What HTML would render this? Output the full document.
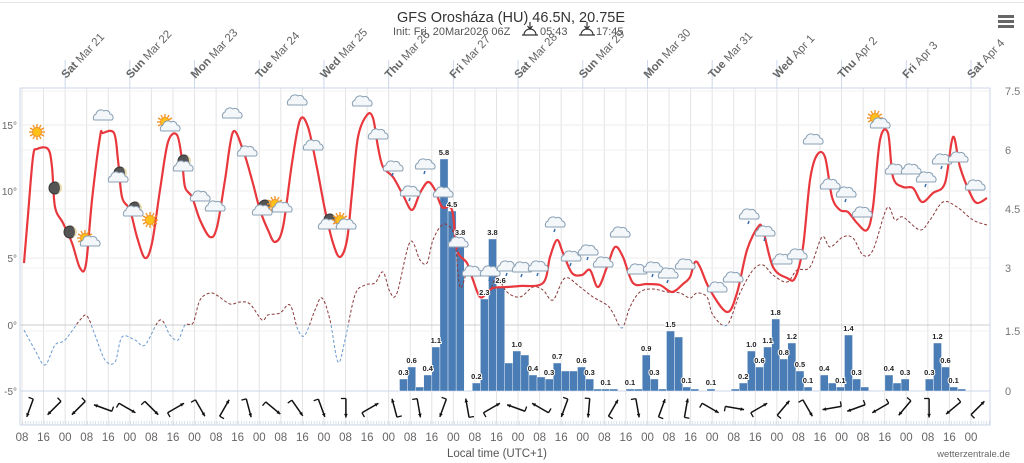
<!DOCTYPE html>
<html><head><meta charset="utf-8">
<style>
body{margin:0;background:#fff;width:1024px;height:463px;overflow:hidden;font-family:"Liberation Sans",sans-serif;}
svg{display:block}
</style></head><body>
<svg id="s" width="1024" height="463" viewBox="0 0 1024 463" xmlns="http://www.w3.org/2000/svg" font-family="Liberation Sans, sans-serif">
<rect x="0" y="0" width="1024" height="463" fill="#fff"/>
<line x1="0" y1="2.5" x2="1024" y2="2.5" stroke="#e6e6e6"/>
<text x="511" y="22" text-anchor="middle" font-size="14.5" fill="#333">GFS Orosháza (HU) 46.5N, 20.75E</text>
<text x="393" y="35" font-size="11" fill="#555">Init: Fri, 20Mar2026 06Z</text>
<text x="540" y="35" font-size="11" fill="#555">05:43</text>
<text x="596" y="35" font-size="11" fill="#555">17:45</text>
<g stroke="#333" stroke-width="1.2" fill="none">
<path d="M524 35 a6 6 0 0 1 12 0 M522 35h16 M530 22v7 M527.5 26l2.5 3 2.5-3"/>
<path d="M581 35 a6 6 0 0 1 12 0 M579 35h16 M587 22v7 M584.5 26l2.5 3 2.5-3"/>
</g>
<g fill="#666"><rect x="998" y="15" width="16" height="3"/><rect x="998" y="20" width="16" height="3"/><rect x="998" y="25" width="16" height="3"/></g>
<g id="grid"></g>
<g id="bars"></g>
<g id="lines"></g>
<g id="icons"></g>
<g id="wind"></g>
<g id="labels"></g>
<text x="497" y="457" text-anchor="middle" font-size="11.5" fill="#555">Local time (UTC+1)</text>
<text x="1010" y="457" text-anchor="end" font-size="9.5" fill="#666">wetterzentrale.de</text>
</svg>
<script>
const NS="http://www.w3.org/2000/svg";
function el(p,t,a,txt){const e=document.createElementNS(NS,t);for(const k in a)e.setAttribute(k,a[k]);if(txt!==undefined)e.textContent=txt;document.getElementById(p).appendChild(e);return e;}
const X0=22,PH=2.696,L=20,R=990,T=88,B=391;
for(let i=0;i<=45;i++){const x=X0+i*8*PH;if(x>R)break;el('grid','line',{x1:x,y1:T,x2:x,y2:425,stroke:'#e3e3e3','stroke-width':1});}
const days=["Sat|Mar 21","Sun|Mar 22","Mon|Mar 23","Tue|Mar 24","Wed|Mar 25","Thu|Mar 26","Fri|Mar 27","Sat|Mar 28","Sun|Mar 29","Mon|Mar 30","Tue|Mar 31","Wed|Apr 1","Thu|Apr 2","Fri|Apr 3","Sat|Apr 4"];
days.forEach((d,i)=>{const x=X0+(16+24*i)*PH;el('grid','line',{x1:x,y1:60,x2:x,y2:T,stroke:'#ccd6eb'});
const g=el('labels','text',{transform:`translate(${x+1},${79}) rotate(-47)`,'font-size':11.5,fill:'#666'});
const [a,b]=d.split('|');const t1=document.createElementNS(NS,'tspan');t1.setAttribute('font-weight','bold');t1.textContent=a+' ';g.appendChild(t1);const t2=document.createElementNS(NS,'tspan');t2.textContent=b;g.appendChild(t2);});
[[125,'15°'],[191,'10°'],[258,'5°'],[325,'0°'],[391,'-5°']].forEach(([y,t])=>{el('grid','line',{x1:L,y1:y,x2:R,y2:y,stroke:y==325?'#ccc':'#eee'});el('labels','text',{x:17,y:y+4,'text-anchor':'end','font-size':10,fill:'#666'},t);});
[[91,'7.5'],[150,'6'],[209,'4.5'],[268,'3'],[331,'1.5'],[391,'0']].forEach(([y,t])=>{el('grid','line',{x1:L,y1:y,x2:R,y2:y,stroke:'#f0f0f0'});el('labels','text',{x:1005,y:y+4,'font-size':11,fill:'#777'},t);});
el('grid','rect',{x:L,y:T,width:R-L,height:425-T,fill:'none',stroke:'#ccd6eb'});
el('grid','line',{x1:L,y1:391,x2:R,y2:391,stroke:'#ccd6eb'});
for(let x=L;x<R;x+=2.7)el('grid','line',{x1:x,y1:421,x2:x,y2:425,stroke:'#d0d8e8','stroke-width':0.8});
const hl=["08","16","00"];for(let i=0;i<=45;i++){const x=X0+i*8*PH;if(x>R)break;el('labels','text',{x:x,y:441,'text-anchor':'middle','font-size':11.5,fill:'#666'},hl[i%3]);}
const bv=[0.3,0.6,0.1,0.4,1.1,5.8,4.5,3.8,0,0.2,2.3,3.8,2.6,0.7,1.0,0.9,0.4,0.35,0.3,0.7,0.5,0.5,0.6,0.3,0.05,0.05,0.05,0,0.05,0.05,0.9,0.3,0.05,1.5,1.35,0.1,0.05,0,0.05,0,0,0.05,0.2,1.0,0.6,1.1,1.8,0.8,1.2,0.5,0.1,0,0.4,0.2,0.1,1.4,0.3,0.1,0,0,0.4,0.2,0.3,0,0,0.3,1.2,0.6,0.1,0.05];
const lab={0:'0.3',1:'0.6',3:'0.4',4:'1.1',5:'5.8',6:'4.5',7:'3.8',9:'0.2',10:'2.3',11:'3.8',12:'2.6',14:'1.0',16:'0.4',18:'0.3',19:'0.7',22:'0.6',23:'0.3',25:'0.1',28:'0.1',30:'0.9',31:'0.3',33:'1.5',35:'0.1',38:'0.1',42:'0.2',43:'1.0',44:'0.6',45:'1.1',46:'1.8',47:'0.8',48:'1.2',49:'0.5',50:'0.1',52:'0.4',54:'0.1',55:'1.4',56:'0.3',60:'0.4',62:'0.3',65:'0.3',66:'1.2',67:'0.6',68:'0.1'};
bv.forEach((v,i)=>{if(v<=0)return;const x=399.5+i*8.09,h=Math.max(v*40,1.5);el('bars','rect',{x:x,y:B-h,width:8.09,height:h,fill:'#4a7db5',stroke:'#fff','stroke-width':0.4});});
function smooth(p){let d=`M${p[0][0]},${p[0][1]}`;for(let i=0;i<p.length-1;i++){const p0=p[i-1]||p[i],p1=p[i],p2=p[i+1],p3=p[i+2]||p2;d+=` C${p1[0]+(p2[0]-p0[0])/6},${p1[1]+(p2[1]-p0[1])/6} ${p2[0]-(p3[0]-p1[0])/6},${p2[1]-(p3[1]-p1[1])/6} ${p2[0]},${p2[1]}`;}return d;}
const temp=[[24,263],[28,215],[33,157],[37,149],[48,149],[52,167],[55,207],[63,223],[72,243],[80,268],[86,264],[92,200],[100,137],[103,133],[114,133],[118,160],[122,197],[130,210],[137,237],[145,258],[152,243],[160,190],[168,142],[177,135],[182,160],[185,187],[192,197],[200,220],[210,237],[217,227],[225,180],[233,132],[243,150],[252,180],[260,210],[268,230],[275,242],[283,227],[292,163],[300,120],[308,127],[317,168],[325,210],[333,243],[340,257],[347,240],[352,193],[358,137],[367,115],[373,118],[378,147],[383,167],[393,177],[403,195],[412,210],[420,193],[428,182],[435,190],[442,207],[452,210],[457,250],[467,263],[473,280],[480,297],[487,293],[493,288],[507,287],[520,286],[543,283],[550,257],[557,240],[563,253],[572,273],[582,275],[590,270],[598,287],[607,267],[615,247],[623,257],[633,283],[647,284],[660,285],[672,292],[683,284],[690,277],[695,262],[700,267],[710,290],[727,312],[737,293],[747,250],[758,227],[763,230],[773,267],[787,278],[795,278],[803,247],[810,180],[817,155],[825,157],[832,197],[840,210],[848,212],[857,223],[867,230],[873,207],[880,140],[888,133],[893,177],[903,187],[913,188],[922,202],[933,193],[945,183],[953,137],[960,167],[970,193],[977,203],[987,198]];
const dew=[[24,330],[35,350],[45,365],[55,345],[65,340],[80,320],[87,316],[95,335],[105,360],[115,362],[122,337],[135,340],[145,345],[160,320],[170,335],[178,340],[185,325],[193,323],[200,300],[210,293],[218,296],[230,304],[240,302],[250,304],[262,320],[268,315],[280,313],[290,305],[298,330],[305,335],[315,310],[322,298],[330,320],[338,362],[345,340],[355,295],[365,285],[375,283],[383,272],[390,292],[397,293],[410,242],[420,260],[427,263],[433,240],[442,225],[450,227],[455,240],[460,287],[467,273],[473,280],[480,297],[490,290],[497,277],[507,292],[520,297],[533,287],[543,290],[553,300],[565,278],[580,287],[593,297],[607,305],[613,313],[622,328],[630,307],[640,292],[653,289],[667,292],[680,293],[690,298],[697,293],[707,297],[713,315],[727,325],[740,293],[753,270],[763,265],[773,275],[787,282],[797,270],[810,267],[822,237],[830,247],[843,237],[853,238],[863,255],[873,250],[887,208],[895,220],[903,217],[920,230],[930,220],[943,202],[957,207],[973,220],[987,225]];
const dd=smooth(dew);
el('lines','defs',{}).innerHTML='<clipPath id="ab"><rect x="0" y="0" width="1024" height="325"/></clipPath><clipPath id="be"><rect x="0" y="325" width="1024" height="100"/></clipPath>';
el('lines','path',{d:dd,fill:'none',stroke:'#8b3a3a','stroke-width':1,'stroke-dasharray':'3,2','clip-path':'url(#ab)'});
el('lines','path',{d:dd,fill:'none',stroke:'#6a9ad0','stroke-width':1,'stroke-dasharray':'3,2','clip-path':'url(#be)'});
el('lines','path',{d:smooth(temp),fill:'none',stroke:'#e8383d','stroke-width':2.2});
for(const k in lab){const i=+k,x=399.5+i*8.09+4,y=B-Math.max(bv[i]*40,1.5)-4;el('labels','text',{x:x,y:y,'text-anchor':'middle','font-size':7.5,'font-weight':'bold',fill:'#222',stroke:'#fff','stroke-width':2,'paint-order':'stroke'},lab[k]);}
function cloud(x,y,rain){el('icons','path',{d:`M${x-9},${y+4} a4,4 0 0 1 2,-6 a5,5 0 0 1 8,-3 a4,4 0 0 1 6,3 a3.5,3.5 0 0 1 2,6 z`,fill:'#f4f7fa',stroke:'#8aa0b4','stroke-width':1});if(rain)el('icons','line',{x1:x,y1:y+6,x2:x-1,y2:y+9,stroke:'#3a6fb0','stroke-width':1.5});}
function sun(x,y){for(let a=0;a<360;a+=30){const r=a*Math.PI/180;el('icons','line',{x1:x+5*Math.cos(r),y1:y+5*Math.sin(r),x2:x+8*Math.cos(r),y2:y+8*Math.sin(r),stroke:'#f0901c','stroke-width':1.3});}el('icons','circle',{cx:x,cy:y,r:4.5,fill:'#ffc01a',stroke:'#f0901c'});}
function moon(x,y){el('icons','circle',{cx:x,cy:y,r:6,fill:'#555',stroke:'#333'});el('icons','path',{d:`M${x+1},${y-6} a6,6 0 0 1 0,12 a4,6 0 0 0 0,-12z`,fill:'#e8dcb0'});}
sun(37,132);moon(55,188);moon(70,232);sun(85,238);cloud(90,242);cloud(103,116);moon(120,173);cloud(118,178);moon(135,208);cloud(133,212);sun(150,220);sun(165,122);cloud(170,127);moon(184,161);cloud(183,167);cloud(200,197);cloud(215,207);cloud(232,114);cloud(247,152);moon(265,206);cloud(262,211);sun(275,204);cloud(282,208);cloud(297,101);cloud(313,146);moon(330,220);cloud(328,225);sun(340,220);cloud(346,225);cloud(362,102);cloud(378,135);cloud(393,167,1);cloud(410,192,1);cloud(425,165,1);cloud(443,193,1);cloud(458,243,1);cloud(472,272);cloud(490,272,1);cloud(507,267,1);cloud(522,268,1);cloud(538,267,1);cloud(555,223,1);cloud(571,257,1);cloud(588,251,1);cloud(603,263);cloud(620,233);cloud(637,270);cloud(653,268,1);cloud(668,274,1);cloud(685,265);cloud(717,288);cloud(733,278);cloud(749,215,1);cloud(765,232,1);cloud(782,260);cloud(797,255);cloud(813,140);cloud(830,185);cloud(846,193,1);cloud(862,213);sun(875,118);cloud(880,124);cloud(895,170);cloud(911,170);cloud(926,178,1);cloud(942,160,1);cloud(958,158);cloud(975,186);
const ang=[200,225,225,290,120,135,60,150,30,165,130,145,160,180,60,345,170,200,350,60,290,300,200,185,30,170,20,10,120,100,60,40,150,260,250,240,220,180,230,45];
ang.forEach((a,i)=>{const x=30+i*24.3,y=408,r=(a)*Math.PI/180,dx=9.5*Math.sin(r),dy=-9.5*Math.cos(r);
el('wind','line',{x1:x-dx,y1:y-dy,x2:x+dx,y2:y+dy,stroke:'#111','stroke-width':1.5});
const hx=x+dx,hy=y+dy,b1=r+Math.PI*0.85,b2=r-Math.PI*0.85;
el('wind','path',{d:`M${hx},${hy} L${hx+4*Math.sin(b1)},${hy-4*Math.cos(b1)} L${hx+4*Math.sin(b2)},${hy-4*Math.cos(b2)}z`,fill:'#111'});
const bx=x-dx,by=y-dy,br=r+Math.PI/2;el('wind','line',{x1:bx,y1:by,x2:bx+5*Math.sin(br),y2:by-5*Math.cos(br),stroke:'#111','stroke-width':1.3});});
</script>
</body></html>
